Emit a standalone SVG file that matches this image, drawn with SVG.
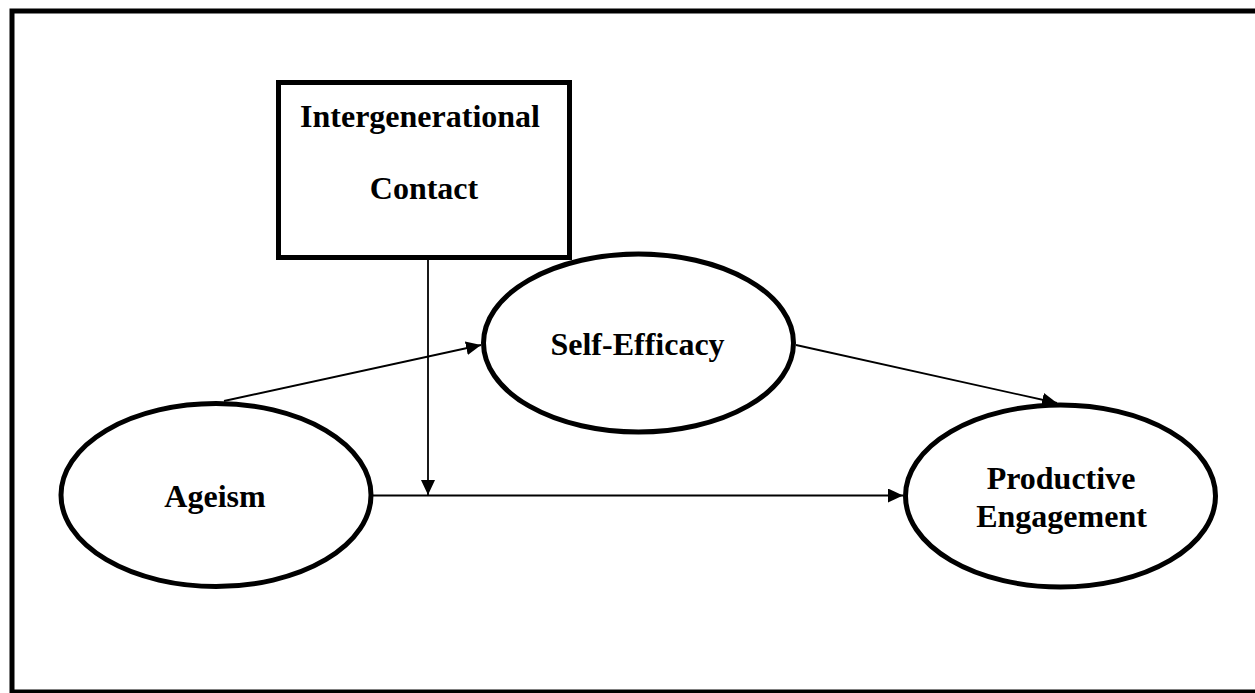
<svg xmlns="http://www.w3.org/2000/svg" width="1255" height="693" viewBox="0 0 1255 693">
<style>
.node{fill:#fff;stroke:#000;stroke-width:5}
.lbl{font-family:"Liberation Serif","Times New Roman",serif;font-weight:bold;font-size:32px;fill:#000;text-anchor:middle}
.conn{fill:none;stroke:#000;stroke-width:1.8}
</style>
<defs>
<marker id="ah" markerUnits="userSpaceOnUse" markerWidth="16" markerHeight="15" refX="15" refY="7" orient="auto">
<path d="M0,0 L15,7 L0,14 Z" fill="#000"/>
</marker>
</defs>
<rect x="0" y="0" width="1255" height="693" fill="#fff"/>
<rect id="frame" x="12" y="11" width="1252" height="681" fill="none" stroke="#000" stroke-width="5"/>
<g id="intergenerational-contact">
<rect class="node" x="278.5" y="82.5" width="291" height="175"/>
<text class="lbl" x="420" y="127">Intergenerational</text>
<text class="lbl" x="424" y="199">Contact</text>
</g>
<g id="ageism">
<ellipse class="node" cx="216" cy="495" rx="155" ry="91.5"/>
<text class="lbl" x="215" y="507">Ageism</text>
</g>
<g id="self-efficacy">
<ellipse class="node" cx="638.5" cy="343" rx="155" ry="89"/>
<text class="lbl" x="637.5" y="355">Self-Efficacy</text>
</g>
<g id="productive-engagement">
<ellipse class="node" cx="1060.5" cy="496" rx="155" ry="91"/>
<text class="lbl" x="1061" y="489">Productive</text>
<text class="lbl" x="1061.5" y="527">Engagement</text>
</g>
<g id="connectors">
<line class="conn" x1="224" y1="401" x2="481" y2="345" marker-end="url(#ah)"/>
<line class="conn" x1="796" y1="345" x2="1057" y2="403" marker-end="url(#ah)"/>
<line class="conn" x1="373" y1="495.5" x2="903" y2="495.5" marker-end="url(#ah)"/>
<line class="conn" x1="428" y1="259" x2="428" y2="495" marker-end="url(#ah)"/>
</g>
</svg>
